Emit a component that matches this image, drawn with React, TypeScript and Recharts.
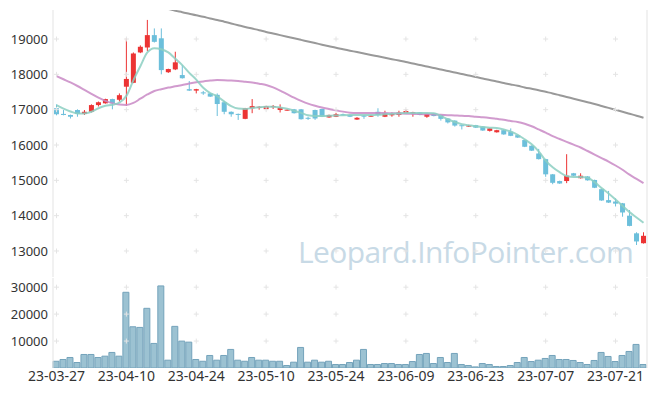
import React from 'react';
import {
  ComposedChart,
  BarChart,
  Bar,
  Line,
  XAxis,
  YAxis,
  ReferenceDot,
} from 'recharts';

const dates = [
  '23-03-27', '23-03-28', '23-03-29', '23-03-30', '23-03-31',
  '23-04-03', '23-04-04', '23-04-05', '23-04-06', '23-04-07',
  '23-04-10', '23-04-11', '23-04-12', '23-04-13', '23-04-14',
  '23-04-17', '23-04-18', '23-04-19', '23-04-20', '23-04-21',
  '23-04-24', '23-04-25', '23-04-26', '23-04-27', '23-04-28',
  '23-05-02', '23-05-03', '23-05-04',
  '23-05-08', '23-05-09', '23-05-10', '23-05-11', '23-05-12',
  '23-05-15', '23-05-16', '23-05-17', '23-05-18', '23-05-19',
  '23-05-22', '23-05-23', '23-05-24', '23-05-25', '23-05-26',
  '23-05-30', '23-05-31', '23-06-01', '23-06-02',
  '23-06-05', '23-06-07', '23-06-08', '23-06-09',
  '23-06-12', '23-06-13', '23-06-14', '23-06-15', '23-06-16',
  '23-06-19', '23-06-20', '23-06-21', '23-06-22', '23-06-23',
  '23-06-26', '23-06-27', '23-06-28', '23-06-29', '23-06-30',
  '23-07-03', '23-07-04', '23-07-05', '23-07-06', '23-07-07',
  '23-07-10', '23-07-11', '23-07-12', '23-07-13', '23-07-14',
  '23-07-17', '23-07-18', '23-07-19', '23-07-20', '23-07-21',
  '23-07-24', '23-07-25', '23-07-26', '23-07-27',
];

const dateTicks = [
  '23-03-27', '23-04-10', '23-04-24', '23-05-10', '23-05-24',
  '23-06-09', '23-06-23', '23-07-07', '23-07-21',
];

const priceTicks = [13000, 14000, 15000, 16000, 17000, 18000, 19000];
const volumeTicks = [10000, 20000, 30000];

const open = [
  17040, 16880, 16850, 16990, 16880, 16940, 17130, 17180, 17300, 17280,
  17650, 17760, 18620, 18760, 19110, 19020, 18060, 18140, 17980, 17580,
  17540, 17490, 17460, 17420, 17210, 16940, 16880, 16740, 17040, 17060,
  17020, 17080, 16990, 16980, 17010, 17010, 16770, 16990, 17020, 16780,
  16800, 16870, 16850, 16720, 16830, 16820, 16940, 16800, 16840, 16850,
  16900, 16880, 16920, 16800, 16890, 16850, 16750, 16690, 16560, 16520,
  16560, 16520, 16400, 16360, 16420, 16380, 16280, 16140, 15980, 15760,
  15600, 15170, 14980, 14980, 15200, 15060, 15110, 15010, 14750, 14440,
  14400, 14350, 14000, 13500, 13220,
];
const high = [
  17150, 16990, 16860, 17010, 16990, 17150, 17230, 17310, 17310, 17460,
  19020, 18620, 18820, 19540, 19300, 19300, 18160, 18640, 18260, 17810,
  17590, 17530, 17470, 17460, 17250, 16950, 16890, 17050, 17300, 17100,
  17110, 17130, 17150, 17010, 17020, 17020, 16800, 17000, 17030, 16860,
  16910, 16890, 16860, 16790, 16850, 16850, 17040, 16970, 16920, 16970,
  17010, 16940, 16930, 16890, 16900, 16860, 16760, 16700, 16570, 16570,
  16570, 16530, 16480, 16430, 16440, 16470, 16300, 16150, 15990, 15890,
  15610, 15180, 14990, 15740, 15210, 15200, 15120, 15020, 14760, 14700,
  14490, 14360, 14160, 13530, 13530,
];
const low = [
  16840, 16840, 16750, 16800, 16850, 16920, 17090, 17170, 17010, 17230,
  17110, 17750, 18600, 18660, 18900, 18000, 18040, 18120, 17880, 17530,
  17460, 17420, 17360, 16820, 16870, 16800, 16710, 16730, 16900, 17000,
  17010, 17020, 16920, 16970, 16890, 16720, 16710, 16710, 16790, 16770,
  16790, 16840, 16790, 16710, 16740, 16800, 16800, 16790, 16800, 16800,
  16890, 16800, 16840, 16770, 16810, 16690, 16610, 16520, 16440, 16510,
  16480, 16400, 16380, 16350, 16290, 16250, 16200, 15940, 15830, 15590,
  15100, 14890, 14900, 14920, 15120, 15050, 14990, 14780, 14420, 14360,
  14260, 13970, 13700, 13170, 13210,
];
const close = [
  16870, 16850, 16800, 16880, 16940, 17130, 17210, 17300, 17180, 17410,
  17870, 18590, 18780, 19110, 18920, 18120, 18150, 18340, 17890, 17540,
  17580, 17460, 17370, 17160, 16940, 16870, 16860, 17040, 17100, 17080,
  17100, 17100, 17060, 17000, 16900, 16730, 16750, 16750, 16800, 16850,
  16870, 16850, 16800, 16770, 16820, 16830, 16850, 16900, 16880, 16920,
  16960, 16930, 16850, 16880, 16820, 16740, 16640, 16550, 16540, 16550,
  16490, 16410, 16470, 16420, 16300, 16260, 16210, 15950, 15840, 15600,
  15170, 14930, 14910, 15130, 15130, 15130, 15000, 14790, 14430, 14370,
  14340, 14090, 13710, 13270, 13430,
];

const ma5 = [
  17130, 17030, 16950, 16890, 16890, 16940, 17040, 17110, 17140, 17200,
  17390, 17830, 18230, 18620, 18740, 18710, 18620, 18440, 18260, 18040,
  17850, 17620, 17470, 17380, 17230, 17100, 17030, 17020, 17050, 17070,
  17080, 17080, 17060, 17030, 16970, 16910, 16840, 16820, 16820, 16825,
  16835, 16845, 16850, 16850, 16850, 16850, 16855, 16870, 16885, 16895,
  16905, 16905, 16905, 16905, 16900, 16820, 16730, 16650, 16590, 16560,
  16530, 16510, 16490, 16480, 16440, 16380, 16290, 16160, 16020, 15820,
  15560, 15370, 15230, 15120, 15095, 15095, 15075, 14950, 14780, 14630,
  14460, 14280, 14100, 13950, 13800,
];
const ma20 = [
  17950, 17860, 17770, 17670, 17560, 17450, 17340, 17250, 17185, 17145,
  17135, 17190, 17310, 17430, 17530, 17580, 17625, 17660, 17700, 17740,
  17775, 17800, 17825, 17840, 17835, 17825, 17810, 17790, 17770, 17735,
  17700, 17630, 17540, 17440, 17340, 17250, 17170, 17110, 17060, 17020,
  16980, 16945, 16915, 16905, 16905, 16905, 16905, 16905, 16900, 16895,
  16885, 16880, 16875, 16870, 16865, 16855, 16845, 16835, 16825, 16820,
  16800, 16785, 16765, 16740, 16715, 16680, 16650, 16600, 16530, 16440,
  16350, 16250, 16170, 16090, 16010, 15930, 15830, 15730, 15630, 15530,
  15420, 15300, 15160, 15040, 14920,
];
const ma60 = [
  20520, 20480, 20440, 20390, 20350, 20310, 20270, 20230, 20180, 20140,
  20100, 20060, 20020, 19970, 19930, 19890, 19850, 19800, 19760, 19715,
  19670, 19630, 19580, 19540, 19490, 19440, 19390, 19340, 19295, 19250,
  19200, 19155, 19110, 19065, 19020, 18975, 18930, 18885, 18840, 18795,
  18750, 18710, 18670, 18630, 18590, 18550, 18510, 18470, 18430, 18390,
  18350, 18305, 18265, 18220, 18180, 18135, 18095, 18050, 18010, 17965,
  17925, 17880, 17840, 17800, 17755, 17715, 17675, 17630, 17590, 17550,
  17505, 17460, 17410, 17360, 17310, 17260, 17210, 17160, 17105, 17050,
  16995, 16940, 16885, 16830, 16770,
];

const volume = [
  2500, 3160, 3900, 2040, 5020, 5020, 3900, 4390, 5770, 4390,
  28100, 15300, 15060, 22150, 9120, 30460, 2900, 15450, 9980, 9600,
  3160, 2500, 4650, 2900, 4650, 6890, 2900, 2500, 3900, 2900,
  2900, 2500, 2500, 930, 2160, 7630, 2160, 2900, 2160, 2500,
  1300, 1300, 2040, 2900, 6890, 1300, 1300, 1660, 1660, 1300,
  1300, 2400, 5020, 5400, 1660, 3900, 2040, 5400, 1300, 930,
  410, 1660, 1300, 560, 560, 930, 2040, 3900, 2400, 2900,
  3540, 4650, 3160, 3160, 2790, 2040, 1300, 2790, 5770, 4280,
  2400, 4650, 6140, 8750, 1300,
];

const rows = dates.map((date, i) => ({
  date,
  open: open[i],
  high: high[i],
  low: low[i],
  close: close[i],
  range: [low[i], high[i]],
  volume: volume[i],
  ma5: ma5[i],
  ma20: ma20[i],
  ma60: ma60[i],
}));

const UP = '#ec3434';
const DOWN = '#6cbfdb';
const BORDER = '#e3e3e3';
const FONT = "'Noto Sans', sans-serif";
const yTickStyle = { fontSize: 13, fill: '#333', fontFamily: FONT };
const xTickStyle = { fontSize: 14, fill: '#333', fontFamily: FONT };

function Candle(props: any) {
  const { x, y, width, height, payload } = props;
  if (!payload) return null;
  const { open: o, close: c, high: h, low: l } = payload;
  const span = h - l || 1;
  const ratio = height / span;
  const yOf = (v: number) => y + (h - v) * ratio;
  const color = c >= o ? UP : DOWN;
  const cx = x + width / 2;
  const top = yOf(Math.max(o, c));
  const bottom = yOf(Math.min(o, c));
  return (
    <g>
      <line x1={cx} x2={cx} y1={yOf(h)} y2={yOf(l)} stroke={color} strokeWidth={1} />
      <rect x={x} y={top} width={width} height={Math.max(bottom - top, 1)} fill={color} />
    </g>
  );
}

function Cross(props: any) {
  const { cx, cy } = props;
  if (cx == null || cy == null) return null;
  return (
    <g stroke="#e4e4e4" strokeWidth={1}>
      <line x1={cx - 2.5} x2={cx + 2.5} y1={cy} y2={cy} />
      <line x1={cx} x2={cx} y1={cy - 2.5} y2={cy + 2.5} />
    </g>
  );
}

function crosses(yValues: number[]) {
  const out: React.ReactNode[] = [];
  dateTicks.forEach((d) => {
    yValues.forEach((v) => {
      out.push(
        <ReferenceDot key={`${d}-${v}`} x={d} y={v} r={0} shape={<Cross />} />
      );
    });
  });
  return out;
}

export default function App() {
  return (
    <div
      style={{
        position: 'absolute',
        left: 0,
        top: 0,
        width: 657,
        height: 396,
        background: '#fff',
        overflow: 'hidden',
      }}
    >
      <div
        style={{
          position: 'absolute',
          left: 298,
          top: 231,
          fontFamily: "'Open Sans', sans-serif",
          fontSize: 30,
          letterSpacing: -0.6,
          color: '#c8dae6',
          whiteSpace: 'nowrap',
        }}
      >
        Leopard.InfoPointer.com
      </div>
      <div style={{ position: 'absolute', left: 0, top: 0 }}>
        <ComposedChart
          width={657}
          height={277}
          data={rows}
          margin={{ top: 10, right: 9, bottom: 0, left: 0 }}
        >
          <XAxis dataKey="date" hide />
          <XAxis
            xAxisId="top"
            dataKey="date"
            orientation="top"
            height={0}
            tick={false}
            tickLine={false}
            axisLine={{ stroke: BORDER }}
          />
          <YAxis
            domain={[12264, 19821]}
            ticks={priceTicks}
            allowDataOverflow
            width={53}
            tickLine={false}
            tickSize={5}
            tickMargin={0}
            axisLine={{ stroke: BORDER }}
            tick={yTickStyle}
          />
          <YAxis
            yAxisId="right"
            orientation="right"
            width={1}
            tick={false}
            tickLine={false}
            axisLine={{ stroke: BORDER }}
          />
          {crosses(priceTicks)}
          <Bar
            dataKey="range"
            barSize={5}
            shape={<Candle />}
            isAnimationActive={false}
          />
          <Line
            type="monotone"
            dataKey="ma60"
            stroke="#999999"
            strokeWidth={2}
            dot={false}
            activeDot={false}
            isAnimationActive={false}
          />
          <Line
            type="monotone"
            dataKey="ma20"
            stroke="#c98ac6"
            strokeOpacity={0.85}
            strokeWidth={2}
            dot={false}
            activeDot={false}
            isAnimationActive={false}
          />
          <Line
            type="monotone"
            dataKey="ma5"
            stroke="#8ccfc2"
            strokeOpacity={0.85}
            strokeWidth={2}
            dot={false}
            activeDot={false}
            isAnimationActive={false}
          />
        </ComposedChart>
      </div>
      <div style={{ position: 'absolute', left: 0, top: 278 }}>
        <BarChart
          width={657}
          height={118}
          data={rows}
          margin={{ top: 0, right: 9, bottom: 0, left: 0 }}
          barCategoryGap={0}
        >
          <XAxis
            dataKey="date"
            ticks={dateTicks}
            interval={0}
            height={28}
            tickLine={false}
            tickSize={3}
            tickMargin={0}
            axisLine={false}
            tick={xTickStyle}
          />
          <XAxis
            xAxisId="top"
            dataKey="date"
            orientation="top"
            height={0}
            tick={false}
            tickLine={false}
            axisLine={{ stroke: BORDER }}
          />
          <YAxis
            domain={[0, 33400]}
            ticks={volumeTicks}
            allowDataOverflow
            width={53}
            tickLine={false}
            tickSize={5}
            tickMargin={0}
            axisLine={{ stroke: BORDER }}
            tick={yTickStyle}
          />
          <YAxis
            yAxisId="right"
            orientation="right"
            width={1}
            tick={false}
            tickLine={false}
            axisLine={{ stroke: BORDER }}
          />
          {crosses(volumeTicks)}
          <Bar
            dataKey="volume"
            barSize={6}
            fill="#9cc2d2"
            stroke="#74a3bb"
            strokeWidth={1}
            isAnimationActive={false}
          />
        </BarChart>
      </div>
    </div>
  );
}
